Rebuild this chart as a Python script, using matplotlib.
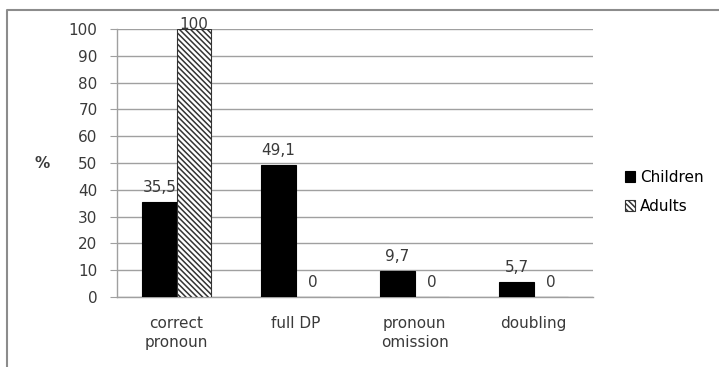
import matplotlib.pyplot as plt
from matplotlib.lines import Line2D
import numpy as np

categories = ['correct\npronoun', 'full DP', 'pronoun\nomission', 'doubling']
children = [35.5, 49.1, 9.7, 5.7]
adults = [100, 0, 0, 0]
series_names = ['Children', 'Adults']

text_color = '#3a3a3a'
grid_color = '#a0a0a0'

plt.rcParams['font.family'] = ['DejaVu Sans']
plt.rcParams['hatch.linewidth'] = 1.1

fig = plt.figure(figsize=(7.19, 3.67), dpi=100)
ax = fig.add_axes([117 / 719, 70 / 367, 476 / 719, 268 / 367])

x = np.arange(len(categories))
w = 0.286

b1 = ax.bar(x - w / 2, children, width=w, color='black', edgecolor='black',
            linewidth=0.8, label=series_names[0], zorder=3)
b2 = ax.bar(x + w / 2, adults, width=w, color='white', edgecolor='#333333',
            hatch='\\' * 6, linewidth=0.8, label=series_names[1], zorder=3)

# value labels with a decimal comma
def fmt(v):
    return ('%g' % v).replace('.', ',')

for bars, vals in ((b1, children), (b2, adults)):
    for rect, v in zip(bars, vals):
        # label of a full-height bar is pushed down onto the bar top
        dy = -2 if v >= 95 else 5
        ax.annotate(fmt(v), (rect.get_x() + rect.get_width() / 2, v),
                    xytext=(0, dy), textcoords='offset points',
                    ha='center', va='bottom', fontsize=11, color=text_color,
                    annotation_clip=False, zorder=4)

ax.set_xlim(-0.5, len(categories) - 0.5)
ax.set_ylim(0, 100)
ax.set_yticks(range(0, 101, 10))
ax.set_xticks(x)
ax.set_xticklabels(categories, fontsize=11, color=text_color, linespacing=1.3)
ax.tick_params(axis='x', length=0, pad=14)
ax.tick_params(axis='y', length=5, color=grid_color, pad=9, labelsize=11,
               labelcolor=text_color)
ax.yaxis.grid(True, color=grid_color, linewidth=1)
ax.set_axisbelow(True)
for s in ('top', 'right'):
    ax.spines[s].set_visible(False)
for s in ('left', 'bottom'):
    ax.spines[s].set_color(grid_color)
    ax.spines[s].set_linewidth(1)

fig.text(42 / 719, 1 - 164 / 367, '%', fontsize=11, fontweight='bold',
         color=text_color, va='center', ha='center')

ax.legend(loc='center left', bbox_to_anchor=(611 / 719, 1 - 192 / 367),
          bbox_transform=fig.transFigure, frameon=False, fontsize=11,
          handlelength=0.7, handleheight=0.7, handletextpad=0.3,
          labelspacing=0.9, labelcolor='black')

# outer frame along the left and top
fig.add_artist(Line2D([7 / 719, 7 / 719, 1], [0, 1 - 10 / 367, 1 - 10 / 367],
                      transform=fig.transFigure, color='#8c8c8c', linewidth=1.5))

fig.savefig('out.png', dpi=100)
